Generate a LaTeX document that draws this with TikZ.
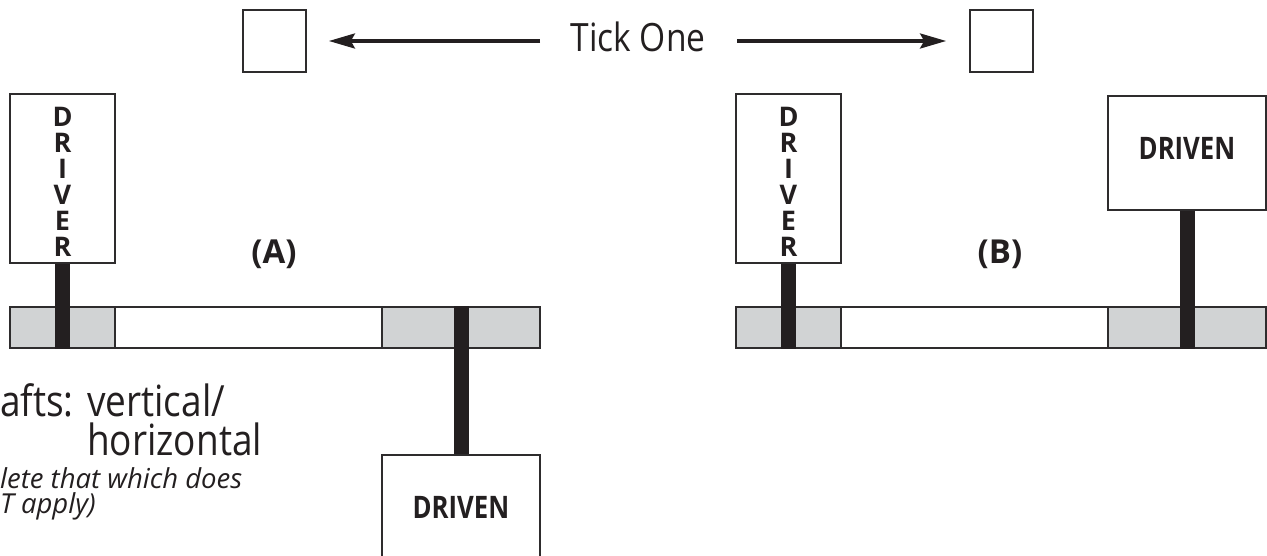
\documentclass[tikz,border=0pt]{standalone}
\usepackage{fontspec}
\setmainfont{Open Sans}
\newfontfamily\nr[FakeStretch=0.86]{Open Sans}
\newfontfamily\nb[FakeStretch=0.83]{Open Sans}
\usetikzlibrary{arrows.meta}
\definecolor{ink}{HTML}{231F20}
\definecolor{edge}{HTML}{2E2C2D}
\definecolor{pul}{HTML}{D1D3D4}
\begin{document}
\begin{tikzpicture}[x=1pt,y=-1pt,
  box/.style={draw=edge, line width=1.8pt, fill=white, inner sep=0pt},
  pulley/.style={draw=edge, line width=1.8pt, fill=pul, inner sep=0pt},
  shaft/.style={draw=ink, line width=15pt, line cap=butt},
  arr/.style={draw=ink, line width=3.2pt, -{Stealth[length=26pt,width=15pt,inset=4pt]}},
  vword/.style={align=center, inner sep=0pt, text=ink, font=\bfseries\fontsize{27pt}{26pt}\selectfont},
  bword/.style={inner sep=0pt, text=ink, font=\nb\bfseries\fontsize{31pt}{33pt}\selectfont},
  lab/.style={inner sep=0pt, anchor=base, text=ink, font=\bfseries\fontsize{33pt}{36pt}\selectfont},
  plain/.style={inner sep=0pt, anchor=base west, text=ink, font=\nr\fontsize{43pt}{46pt}\selectfont},
  note/.style={inner sep=0pt, anchor=base west, align=left, text=ink, font=\itshape\fontsize{27.5pt}{25pt}\selectfont}
]
\useasboundingbox (0,0) rectangle (1267,556);
\clip (0,0) rectangle (1267,556);

% Tick one
\node[box, minimum width=63pt, minimum height=62pt] (tkL) at (274.5,41) {};
\node[box, minimum width=63pt, minimum height=62pt] (tkR) at (1001.5,41) {};
\node[inner sep=0pt, anchor=base, text=ink, font=\nr\fontsize{39pt}{42pt}\selectfont] (tick) at (638,52) {Tick One};
\coordinate (aL) at (540,41);
\coordinate (aR) at (737,41);
\draw[arr, shorten >=22pt] (aL) -- (tkL.east);
\draw[arr, shorten >=23pt] (aR) -- (tkR.west);

% System A
\node[box, minimum width=530pt, minimum height=41pt] (beltA) at (275,327.5) {};
\node[pulley, minimum width=105pt, minimum height=41pt] (pA1) at (62.5,327.5) {};
\node[pulley, minimum width=158pt, minimum height=41pt] (pA2) at (461,327.5) {};
\node[box, minimum width=105pt, minimum height=169pt] (drA) at (62.5,178.5) {};
\node[vword] (drAt) at ([yshift=-3.5pt]drA.center) {D\\R\\I\\V\\E\\R};
\node[box, minimum width=158pt, minimum height=114pt] (dnA) at (461,512) {};
\node[bword] (dnAt) at ([yshift=5pt]dnA.center) {DRIVEN};
\draw[shaft] (drA.south) -- (pA1.south);
\draw[shaft] (pA2.north) -- (dnA.north);
\node[lab] (labA) at (274,264) {(A)};

% System B
\node[box, minimum width=530pt, minimum height=41pt] (beltB) at (1001,327.5) {};
\node[pulley, minimum width=105pt, minimum height=41pt] (pB1) at (788.5,327.5) {};
\node[pulley, minimum width=158pt, minimum height=41pt] (pB2) at (1187,327.5) {};
\node[box, minimum width=105pt, minimum height=169pt] (drB) at (788.5,178.5) {};
\node[vword] (drBt) at ([yshift=-3.5pt]drB.center) {D\\R\\I\\V\\E\\R};
\node[box, minimum width=158pt, minimum height=114pt] (dnB) at (1187,153) {};
\node[bword] (dnBt) at ([yshift=5pt]dnB.center) {DRIVEN};
\draw[shaft] (drB.south) -- (pB1.south);
\draw[shaft] (dnB.south) -- (pB2.south);
\node[lab] (labB) at (1000,264) {(B)};

% Left texts
\node[plain] (t1) at (0,416) {afts:};
\node[plain] (t2) at (87,416) {vertical/};
\node[plain] (t3) at (87,455) {horizontal};
\node[note] (t4) at (0,513) {lete that which does\\T apply)};
\end{tikzpicture}
\end{document}
